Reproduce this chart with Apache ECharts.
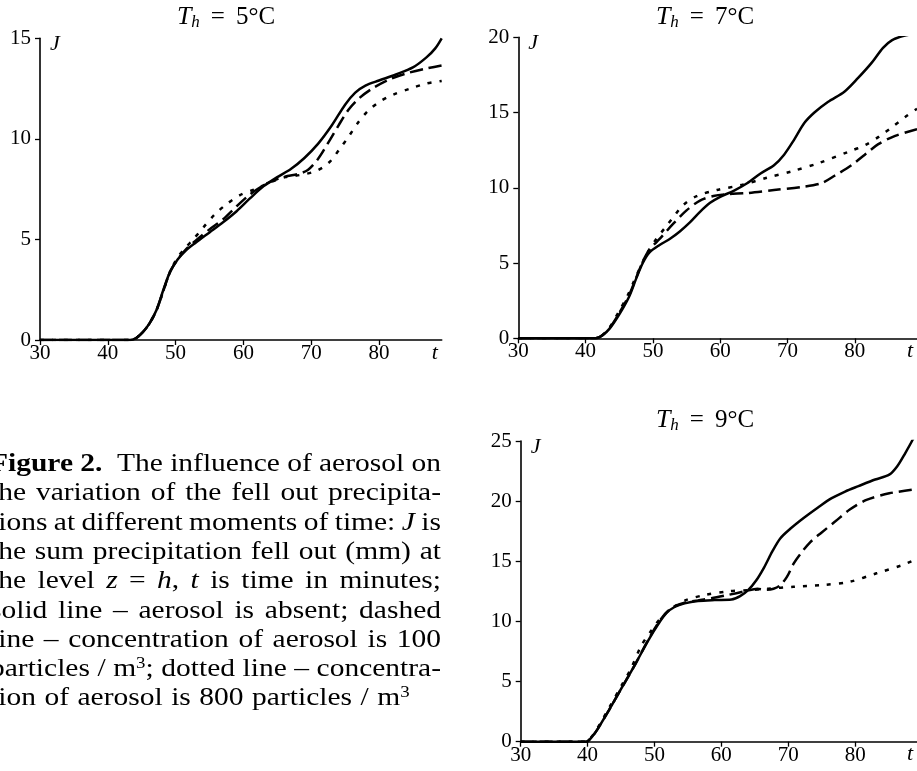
<!DOCTYPE html>
<html>
<head>
<meta charset="utf-8">
<script src="https://cdn.jsdelivr.net/npm/echarts/dist/echarts.min.js"></script>
<style>
html,body{margin:0;padding:0;background:#fff;}
#c{width:917px;height:771px;}
</style>
</head>
<body>
<div id="c"></div>
<script>
// ---------------- data ----------------
const T_TICKS = [30, 40, 50, 60, 70, 80];
const T_MIN = 30, T_MAX = 89.25;
const PANEL_TEMPS = ['5', '7', '9'];
const J_MAX = [15, 20, 25];
const J_INTERVAL = 5;

// T_h = 5°C : [t, J]
const T5_SOLID = [[30,0],[43.3,0],[44.2,0.1],[45.2,0.4],[46.2,0.85],[47.2,1.5],[48.2,2.5],[49.2,3.4],[50.3,4.0],[51.5,4.45],[53,4.85],[55,5.35],[57,5.85],[59,6.4],[61,7.05],[63,7.65],[65,8.1],[67,8.5],[69,9.05],[71,9.75],[73,10.65],[75,11.7],[76.5,12.3],[78,12.65],[80,12.9],[82.5,13.2],[85,13.55],[87,14.05],[88.3,14.5],[89.25,15.0]];
const T5_DASHED = [[30,0],[43.3,0],[44.2,0.1],[45.2,0.4],[46.2,0.85],[47.2,1.5],[48.2,2.45],[49.2,3.4],[50.3,4.0],[51.5,4.5],[53,4.95],[55,5.5],[57,6.0],[59,6.65],[61,7.25],[63,7.7],[65,8.0],[66.5,8.15],[68,8.25],[69.5,8.45],[71,9.0],[72.5,9.8],[74,10.65],[75.5,11.45],[77,12.0],[79,12.5],[81.5,12.95],[84,13.25],[87,13.5],[89.25,13.65]];
const T5_DOTTED = [[30,0],[43.3,0],[44.2,0.1],[45.2,0.4],[46.2,0.85],[47.2,1.5],[48.2,2.45],[49.2,3.4],[50.3,4.1],[51.5,4.6],[52.6,5.0],[54.1,5.6],[55.8,6.25],[57.5,6.75],[59.5,7.2],[61.7,7.5],[63.9,7.83],[66.2,8.1],[68.3,8.2],[70.3,8.35],[71.8,8.6],[73,8.95],[74.2,9.5],[75.5,10.1],[76.9,10.8],[78.4,11.4],[80.1,11.85],[82.1,12.2],[84.6,12.5],[87.0,12.75],[89.25,12.88]];

// T_h = 7°C
const T7_SOLID = [[30,0],[41.5,0],[42.5,0.2],[43.6,0.66],[45.1,1.66],[46.5,2.8],[47.5,3.95],[48.5,5.0],[49.5,5.7],[51,6.2],[52.5,6.6],[54,7.1],[55.5,7.7],[57,8.4],[58.5,9.0],[60,9.4],[62,9.8],[64,10.3],[66,10.95],[68,11.5],[69.5,12.2],[71,13.2],[72.5,14.3],[74,15.0],[76,15.7],[78.5,16.4],[80.5,17.3],[82.5,18.3],[84.2,19.3],[85.5,19.8],[87.3,20.1],[89.25,20.25]];
const T7_DASHED = [[30,0],[41.5,0],[42.5,0.2],[43.6,0.7],[45.1,1.75],[46.5,2.9],[47.5,4.0],[48.5,5.1],[49.5,5.9],[51,6.6],[53,7.6],[55,8.5],[57,9.15],[59,9.45],[61,9.58],[64,9.65],[68,9.85],[72,10.05],[75,10.3],[77,10.8],[79.5,11.5],[81.5,12.2],[83.5,12.9],[86,13.45],[89.25,13.9]];
const T7_DOTTED = [[30,0],[41.5,0],[42.5,0.2],[43.6,0.75],[45.1,1.9],[46.2,2.8],[47.2,3.8],[48.2,4.8],[49.2,5.7],[50.5,6.6],[52,7.45],[53.3,8.2],[54.5,8.85],[56.5,9.45],[59.5,9.85],[63.3,10.2],[66.8,10.65],[70.7,11.1],[74.7,11.65],[79.1,12.4],[81.6,12.85],[83.6,13.4],[85.6,14.05],[87.5,14.7],[89.25,15.25]];

// T_h = 9°C
const T9_SOLID = [[30,0],[39.8,0],[40.5,0.3],[41.5,1.05],[43.2,2.63],[45.2,4.57],[47.2,6.52],[49.1,8.45],[50.6,9.8],[51.8,10.7],[53,11.2],[54.5,11.5],[56.5,11.7],[59,11.78],[61.5,11.82],[62.8,12.1],[64,12.6],[65.2,13.4],[66.4,14.5],[67.6,15.8],[68.8,16.9],[70.3,17.7],[72.3,18.6],[74.5,19.5],[76.5,20.25],[78.5,20.8],[80.5,21.25],[83,21.8],[85.1,22.2],[86.3,22.9],[87.5,24.0],[88.6,25.1],[89.25,25.9]];
const T9_DASHED = [[30,0],[39.8,0],[40.5,0.3],[41.5,1.05],[43.2,2.63],[45.2,4.57],[47.2,6.52],[49.1,8.5],[50.6,9.9],[51.8,10.75],[53,11.25],[54.5,11.55],[56.5,11.75],[58.5,11.92],[61,12.2],[63.5,12.5],[65.4,12.72],[66.6,12.62],[67.8,12.72],[68.8,13.0],[69.8,13.7],[70.8,14.8],[71.8,15.6],[73.3,16.6],[75,17.4],[77,18.3],[79.2,19.3],[81.7,20.1],[85.1,20.65],[89.25,21.0]];
const T9_DOTTED = [[30,0],[39.8,0],[40.5,0.35],[41.5,1.15],[43.2,2.8],[45.0,4.6],[46.5,6.1],[48.0,7.95],[49.4,9.14],[50.9,10.26],[52.6,11.09],[54.6,11.75],[57.5,12.19],[61.0,12.5],[64,12.6],[67,12.72],[70.8,12.88],[75.3,13.03],[79.2,13.3],[83.2,14.0],[87.1,14.69],[89.25,15.2]];

const CAPTION_LINES = [
  '{b|Figure} {b|2.}  The influence of aerosol on',
  'the variation of the fell out precipita-',
  'tions at different moments of time: {i|J} is',
  'the sum precipitation fell out (mm) at',
  'the level {i|z} = {i|h}, {i|t} is time in minutes;',
  'solid line – aerosol is absent; dashed',
  'line – concentration of aerosol is 100',
  'particles / m{sup|3}; dotted line – concentra-',
  'tion of aerosol is 800 particles / m{sup|3}'
];

// ---------------- layout / style ----------------
const FONT = 'Liberation Serif';
const GRIDS = [
  {left: 40, top: 38.3, width: 401.7, height: 301.7},
  {left: 518.3, top: 37.3, width: 400, height: 301},
  {left: 520.7, top: 441, width: 400.5, height: 300.7}
];
const TITLE_POS = [[226, 17], [705, 17], [705, 420]];
const PANEL_SERIES = [
  [T5_SOLID, T5_DASHED, T5_DOTTED],
  [T7_SOLID, T7_DASHED, T7_DOTTED],
  [T9_SOLID, T9_DASHED, T9_DOTTED]
];
const LINE_TYPES = ['solid', [13, 6], [4, 8]];

const axisLineStyle = {color: '#000', width: 1.6};
const labelStyle = {color: '#000', fontSize: 21, fontFamily: FONT};

const xAxes = GRIDS.map((g, i) => ({
  type: 'value', gridIndex: i, min: T_MIN, max: T_MAX, interval: 10,
  axisLine: {show: true, onZero: false, lineStyle: axisLineStyle},
  axisTick: {show: true, length: 5, customValues: T_TICKS, lineStyle: {color: '#000', width: 1.3}},
  axisLabel: Object.assign({margin: 3, customValues: T_TICKS}, labelStyle),
  splitLine: {show: false},
  name: 't', nameLocation: 'end', nameGap: -7,
  nameTextStyle: {color: '#000', fontFamily: FONT, fontStyle: 'italic', fontSize: 22, align: 'center', verticalAlign: 'top', padding: [2, 0, 0, 0]}
}));
const yAxes = GRIDS.map((g, i) => ({
  type: 'value', gridIndex: i, min: 0, max: J_MAX[i], interval: J_INTERVAL,
  axisLine: {show: true, onZero: false, lineStyle: axisLineStyle},
  axisTick: {show: true, length: 5, lineStyle: {color: '#000', width: 1.3}},
  axisLabel: Object.assign({margin: 9}, labelStyle),
  splitLine: {show: false},
  name: 'J', nameLocation: 'end', nameGap: 5,
  nameTextStyle: {color: '#000', fontFamily: FONT, fontStyle: 'italic', fontSize: 22, align: 'left', verticalAlign: 'top', padding: [0, 0, 0, 10]}
}));

const series = [];
PANEL_SERIES.forEach((arr, i) => {
  arr.forEach((data, k) => {
    series.push({
      type: 'line', xAxisIndex: i, yAxisIndex: i, data: data,
      symbol: 'none', showSymbol: false, smooth: 0.3,
      lineStyle: {color: '#000', width: 2.5, type: LINE_TYPES[k]},
      silent: true, clip: true, z: 3 - k
    });
  });
});

// titles
const titleRich = {
  T: {fontFamily: FONT, fontStyle: 'italic', fontSize: 26, lineHeight: 28, fill: '#000'},
  h: {fontFamily: FONT, fontStyle: 'italic', fontSize: 17, lineHeight: 17, verticalAlign: 'bottom', fill: '#000'},
  eq: {fontFamily: FONT, fontSize: 25, lineHeight: 28, padding: [0, 11, 0, 11], fill: '#000'},
  n: {fontFamily: FONT, fontSize: 25, lineHeight: 28, fill: '#000'}
};
const graphics = PANEL_TEMPS.map((p, i) => ({
  type: 'text', x: TITLE_POS[i][0], y: TITLE_POS[i][1], silent: true,
  style: {text: '{T|T}{h|h}{eq|=}{n|' + p + '°C}', rich: titleRich, align: 'center', verticalAlign: 'middle', fill: '#000'}
}));

// caption (justified)
const CAP_SIZE = 25, CAP_SCALE = 1.18, CAP_LEFT = -10, CAP_RIGHT = 441, CAP_Y0 = 464.5, CAP_LEAD = 29.3;
const SUP_SIZE = 16;
const capRich = {
  b: {fontFamily: FONT, fontWeight: 'bold', fontSize: CAP_SIZE, lineHeight: 28, fill: '#000'},
  i: {fontFamily: FONT, fontStyle: 'italic', fontSize: CAP_SIZE, lineHeight: 28, fill: '#000'},
  sup: {fontFamily: FONT, fontSize: SUP_SIZE, lineHeight: SUP_SIZE, verticalAlign: 'top', fill: '#000'}
};
const mctx = document.createElement('canvas').getContext('2d');
function segFont(st) {
  if (st === 'b') return 'bold ' + CAP_SIZE + 'px "' + FONT + '"';
  if (st === 'i') return 'italic ' + CAP_SIZE + 'px "' + FONT + '"';
  if (st === 'sup') return SUP_SIZE + 'px "' + FONT + '"';
  return CAP_SIZE + 'px "' + FONT + '"';
}
function measureWord(w) {
  const re = /\{(\w+)\|([^}]*)\}|([^{]+)/g;
  let m, total = 0;
  while ((m = re.exec(w))) {
    const st = m[1] || 'n';
    const txt = m[1] ? m[2] : m[3];
    mctx.font = segFont(st);
    total += mctx.measureText(txt).width;
  }
  return total * CAP_SCALE;
}
CAPTION_LINES.forEach((line, li) => {
  const words = line.split(' ');
  const widths = words.map(measureWord);
  const sum = widths.reduce((a, b) => a + b, 0);
  const last = li === CAPTION_LINES.length - 1;
  const gap = last ? 8.5 : (CAP_RIGHT - CAP_LEFT - sum) / (words.length - 1);
  let x = CAP_LEFT;
  words.forEach((w, wi) => {
    if (w) {
      graphics.push({
        type: 'text', x: x, y: CAP_Y0 + li * CAP_LEAD, scaleX: CAP_SCALE, scaleY: 1, silent: true,
        style: {text: w, rich: capRich, font: CAP_SIZE + 'px "' + FONT + '"', lineHeight: 28,
                align: 'left', verticalAlign: 'middle', fill: '#000'}
      });
    }
    x += widths[wi] + gap;
  });
});

const chart = echarts.init(document.getElementById('c'), null, {renderer: 'canvas'});
chart.setOption({
  backgroundColor: '#fff',
  animation: false,
  grid: GRIDS.map(g => Object.assign({containLabel: false}, g)),
  xAxis: xAxes,
  yAxis: yAxes,
  series: series,
  graphic: graphics
});
</script>
</body>
</html>
